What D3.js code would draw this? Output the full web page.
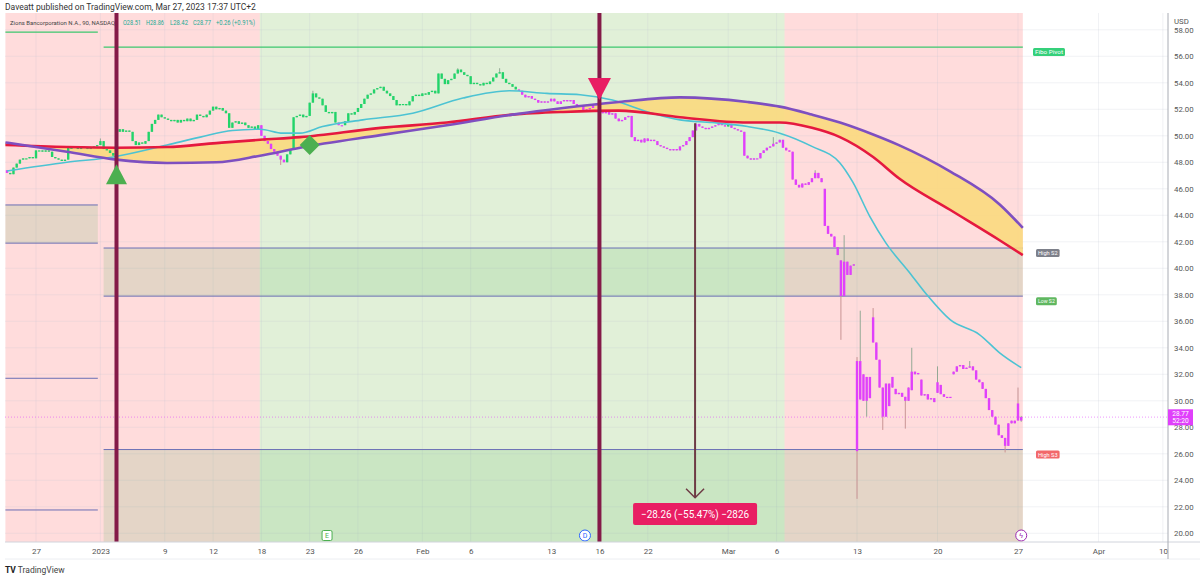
<!DOCTYPE html>
<html>
<head>
<meta charset="utf-8">
<script src="https://cdn.jsdelivr.net/npm/d3@7"></script>
<style>
  body { margin: 0; background: #fff; }
  svg { display: block; font-family: Roboto, "Liberation Sans", sans-serif; }
</style>
</head>
<body>
<svg id="chart" width="1200" height="575"></svg>
<script>
// ---- data (bar index 0 = first 90 min bar of Dec 27, 5 bars per session) ----
const firstBar = -9;
const closes = [
  47.2, 47.1, 47.6, 47.9,                 // Dec 22
  48.2, 48.3, 48.3, 48.4, 48.3,           // Dec 23
  48.9, 48.9, 48.8, 48.9, 48.8,           // Dec 27
  48.4, 48.3, 48.2, 48.1, 48.2,
  49.1, 49.1, 49.2, 49.0, 49.2,
  49.1, 49.0, 49.1, 49.2, 49.3,
  49.6, 49.0, 48.9, 48.7, 48.5,           // Jan 3
  50.3, 50.5, 50.3, 50.4, 50.3,
  49.6, 49.3, 49.5, 49.4, 49.6,
  50.3, 50.9, 51.2, 51.6, 51.4,
  51.3, 51.2, 51.1, 51.2, 51.0,           // Jan 9
  51.2, 51.1, 51.3, 51.1, 51.2,
  51.6, 51.5, 51.4, 51.6, 51.9,
  52.2, 52.0, 52.1, 51.9, 51.7,
  50.6, 51.0, 51.1, 50.9, 51.0,
  50.8, 50.6, 50.7, 50.5, 50.8,           // Jan 17
  50.0, 49.6, 49.4, 49.0, 48.8,
  48.5, 48.2, 48.0, 48.6, 49.0,
  51.4, 51.5, 51.6, 51.4, 51.5,
  52.5, 53.2, 52.9, 52.8, 52.3,           // Jan 23
  51.8, 51.7, 51.8, 51.0, 50.8,
  50.8, 51.1, 51.7, 51.6, 51.8,
  52.1, 52.4, 52.8, 53.1, 53.2,
  53.5, 53.6, 53.7, 53.4, 53.2,
  53.0, 52.7, 52.3, 52.4, 52.4,           // Jan 30
  52.3, 52.6, 53.0, 53.1, 53.0,
  53.2, 53.1, 53.3, 53.4, 53.2,
  54.7, 54.3, 53.9, 54.2, 54.3,
  54.7, 55.0, 54.8, 54.6, 54.5,
  53.9, 54.0, 53.9, 53.8, 54.0,           // Feb 6
  53.9, 54.1, 54.4, 54.7, 54.8,
  54.3, 54.0, 53.9, 53.7, 53.5,
  53.4, 53.1, 52.9, 53.0, 52.8,
  52.7, 52.5, 52.6, 52.5, 52.6,
  52.8, 52.6, 52.4, 52.6, 52.7,           // Feb 13
  52.6, 52.7, 52.4, 52.2, 52.3,
  51.9, 52.0, 52.1, 52.3, 52.4,
  51.8, 51.7, 51.8, 51.6, 51.7,
  51.3, 51.1, 51.2, 51.4, 51.5,
  49.9, 49.6, 49.7, 49.5, 49.8,           // Feb 21
  49.6, 49.7, 49.6, 49.3, 49.2,
  49.1, 49.0, 48.9, 49.0, 48.9,
  49.2, 49.3, 49.6, 49.9, 50.4,
  50.9, 50.7, 50.6, 50.5, 50.6,           // Feb 27
  50.7, 50.8, 50.9, 50.8, 50.7,
  50.9, 50.6, 50.5, 50.4, 50.3,
  48.5, 48.3, 48.2, 48.3, 48.3,
  48.7, 48.9, 49.1, 49.2, 49.4,
  49.5, 49.7, 49.1, 48.9, 48.8,           // Mar 6
  46.7, 46.3, 46.1, 46.4, 46.3,
  46.5, 46.8, 47.2, 46.8, 46.5,
  43.2, 42.6, 42.4, 41.6, 41.0,
  37.9, 40.5, 39.5, 40.2, 40.3,
  26.2, 33.0, 30.0, 31.8, 30.2,           // Mar 13
  34.4, 33.1, 31.0, 28.8, 31.3,
  29.6, 31.8, 30.5, 30.6, 30.3,
  30.0, 31.0, 32.2, 32.0, 32.1,
  30.4, 30.5, 30.1, 30.2, 29.9,
  31.4, 30.5, 30.3, 30.3, 30.3,           // Mar 20
  32.2, 32.6, 32.7, 32.4, 32.5,
  32.6, 32.3, 31.6, 31.4, 30.9,
  30.2, 29.3, 28.8, 28.2, 27.4,
  27.2, 26.6, 28.3, 28.5, 28.3,
  28.51, 28.77                            // Mar 27
];
// opens that differ from the previous close (session gaps)
const gapOpens = { "-9": 47.4, 245: 46.0, 250: 40.6, 255: 33.0, 256: 30.1, 257: 32.0,
  260: 36.3, 266: 31.0, 267: 30.9, 272: 30.8, 275: 31.6, 280: 30.6, 281: 31.2, 285: 32.0, 305: 29.8 };
const wickHighs = { 20: 49.8, 25: 50.7, 86: 53.4, 131: 55.1, 144: 55.1, 205: 51.0, 229: 49.9,
  242: 47.4, 251: 42.5, 255: 33.3, 256: 36.8, 260: 37.0, 272: 34.0, 280: 32.6, 290: 33.0, 305: 31.0, 306: 28.86 };
const wickLows = { 0: 48.3, 76: 47.8, 250: 34.6, 255: 22.6, 258: 28.8, 263: 27.8, 270: 27.9, 301: 26.1, 306: 28.42 };
const magentaRanges = [[-9, -9], [70, 77], [94, 95], [150, 214], [216, 306]];

// moving averages
const cyanBars = [-9, 9.6, 24, 40.7, 51, 61, 69.6, 76.7, 82, 89, 101.5, 117, 132.6, 147, 158.7, 169, 179,
  190, 200, 210, 221, 231, 241, 249.7, 253.7, 259, 264, 271.4, 276.7, 284, 293, 299.4, 306];
const cyanVals = [47.34, 48.0, 48.4, 49.3, 49.9, 50.4, 50.5, 50.2, 50.2, 50.7, 51.2, 51.7, 52.85, 53.4, 53.2, 53.1, 52.7,
  51.8, 51.2, 51.0, 50.7, 50.2, 49.2, 47.95, 46.5, 43.9, 41.9, 39.65, 38.0, 36.1, 35.0, 33.6, 32.5];
const bandBars = [-9.5, 9.6, 25, 40.7, 56, 69.6, 82, 107, 127.6, 148, 163.7, 181, 200, 221, 231, 241, 249.7, 260, 268, 284, 299.4, 306.5];
const redVals = [49.3, 49.15, 49.1, 49.15, 49.45, 49.7, 49.9, 50.6, 51.0, 51.6, 51.8, 51.9, 51.4, 51.0, 51.0, 50.6, 49.9, 48.4, 46.8, 44.4, 42.1, 41.0];
const purpleVals = [49.5, 48.8, 48.2, 47.95, 48.0, 48.5, 49.1, 50.05, 50.8, 51.6, 52.1, 52.55, 52.9, 52.55, 52.2, 51.6, 51.0, 50.1, 49.3, 47.3, 44.8, 43.05];

// background sessions
const zoneEdges = [-9.5, 69.5, 232.5, 306.5];
const zoneKinds = ["bear", "bull", "bear"];

// pivots
const prevPivotSpan = [-9.5, 19.2];
const curPivotSpan = [21, 306.5];
const prevPivotLevels = [57.83, 44.78, 41.9, 31.7, 21.76];
const pivotNames = ["Fibo Pivot", "High S2", "Low S2", "High S3"];
const pivotLevels = [56.7, 41.53, 37.9, 26.32];

// signals
const signalBars = [25, 175];
const signalPrices = [47.85, 52.7];
const diamondBar = 85, diamondPrice = 49.3;
const measureBar = 204.7, measureFrom = 50.95, measureTo = 22.69;
const measureText = "\u221228.26 (\u221255.47%) \u22122826";
const lastPrice = 28.77, countdown = "52:20";

// legend
const symbolName = "Zions Bancorporation N.A., 90, NASDAQ";
const ohlcLabels = ["O28.51", "H28.86", "L28.42", "C28.77", "+0.26 (+0.91%)"];

// axes
const tickBars = [0, 20, 40, 55, 70, 85, 100, 120, 135, 160, 175, 190, 215, 230, 255, 280, 305, 330, 350];
const tickLabels = ["27", "2023", "9", "12", "18", "23", "26", "Feb", "6", "13", "16", "22", "Mar", "6", "13", "20", "27", "Apr", "10"];
const priceTicks = [20, 22, 24, 26, 28, 30, 32, 34, 36, 38, 40, 42, 44, 46, 48, 50, 52, 54, 56, 58];
const eventBars = [90.4, 170.5, 306];
const eventLetters = ["E", "D", "\u03DF"];

// ---- drawing ----
const svg = d3.select("#chart");
const pane = { left: 5, right: 1168, top: 13, bottom: 542 };
const x = d3.scaleLinear().domain([0, 305]).range([36, 1018]);
const y = d3.scaleLinear().domain([20, 56]).range([533.3, 56.3]);

svg.append("defs").append("clipPath").attr("id", "pane")
  .append("rect").attr("x", pane.left).attr("y", pane.top)
  .attr("width", pane.right - pane.left).attr("height", pane.bottom - pane.top);

// header
svg.append("text").attr("x", 5).attr("y", 9.5).attr("font-size", 8.5).attr("fill", "#333")
  .text("Daveatt published on TradingView.com, Mar 27, 2023 17:37 UTC+2");

const g = svg.append("g").attr("clip-path", "url(#pane)");

// background zones
const zoneColor = { bear: "rgba(255,82,82,0.2)", bull: "rgba(106,180,60,0.2)" };
zoneKinds.forEach((k, i) => {
  g.append("rect")
    .attr("x", x(zoneEdges[i])).attr("y", pane.top)
    .attr("width", x(zoneEdges[i + 1]) - x(zoneEdges[i]))
    .attr("height", pane.bottom - pane.top)
    .attr("fill", zoneColor[k]);
});

// grid
g.selectAll(".hgrid").data(priceTicks).enter().append("line")
  .attr("x1", pane.left).attr("x2", pane.right)
  .attr("y1", d => y(d)).attr("y2", d => y(d))
  .attr("stroke", "rgba(190,195,210,0.22)");
g.selectAll(".vgrid").data(tickBars).enter().append("line")
  .attr("x1", d => x(d)).attr("x2", d => x(d))
  .attr("y1", pane.top).attr("y2", pane.bottom)
  .attr("stroke", "rgba(190,195,210,0.22)");

// pivot boxes (green tint) and lines
const tint = "rgba(76,175,80,0.15)";
const pivotLine = "#6a6fb5";
g.append("rect").attr("x", x(prevPivotSpan[0])).attr("y", y(prevPivotLevels[1]))
  .attr("width", x(prevPivotSpan[1]) - x(prevPivotSpan[0]))
  .attr("height", y(prevPivotLevels[2]) - y(prevPivotLevels[1])).attr("fill", tint);
g.append("rect").attr("x", x(curPivotSpan[0])).attr("y", y(pivotLevels[1]))
  .attr("width", x(curPivotSpan[1]) - x(curPivotSpan[0]))
  .attr("height", y(pivotLevels[2]) - y(pivotLevels[1])).attr("fill", tint);
g.append("rect").attr("x", x(curPivotSpan[0])).attr("y", y(pivotLevels[3]))
  .attr("width", x(curPivotSpan[1]) - x(curPivotSpan[0]))
  .attr("height", pane.bottom - y(pivotLevels[3])).attr("fill", tint);

prevPivotLevels.forEach((lv, i) => {
  g.append("line").attr("x1", x(prevPivotSpan[0])).attr("x2", x(prevPivotSpan[1]))
    .attr("y1", y(lv)).attr("y2", y(lv))
    .attr("stroke", i === 0 ? "#3cc76e" : pivotLine).attr("stroke-width", i === 0 ? 1.2 : 1);
});
pivotLevels.forEach((lv, i) => {
  g.append("line").attr("x1", x(curPivotSpan[0])).attr("x2", x(curPivotSpan[1]))
    .attr("y1", y(lv)).attr("y2", y(lv))
    .attr("stroke", i === 0 ? "#3cc76e" : pivotLine).attr("stroke-width", i === 0 ? 1.2 : 1);
});

// last price dotted line
g.append("line").attr("x1", pane.left).attr("x2", pane.right)
  .attr("y1", y(lastPrice)).attr("y2", y(lastPrice))
  .attr("stroke", "rgba(224,64,251,0.55)").attr("stroke-dasharray", "1,2");

// yellow band between the two long averages
const bandPts = bandBars.map((b, i) => ({ b, r: redVals[i], p: purpleVals[i] }));
g.append("path").datum(bandPts)
  .attr("fill", "#fbd97e").attr("opacity", 0.9)
  .attr("d", d3.area().curve(d3.curveMonotoneX).x(d => x(d.b)).y0(d => y(d.r)).y1(d => y(d.p)));

// candles
const isMagenta = b => magentaRanges.some(r => b >= r[0] && b <= r[1]);
const bars = closes.map((c, i) => {
  const b = firstBar + i;
  const o = gapOpens[b] !== undefined ? gapOpens[b] : (i ? closes[i - 1] : c);
  const h = Math.max(o, c, wickHighs[b] !== undefined ? wickHighs[b] : -Infinity);
  const l = Math.min(o, c, wickLows[b] !== undefined ? wickLows[b] : Infinity);
  return { b, o, c, h, l };
});
const candles = g.append("g");
candles.selectAll(".wick").data(bars).enter().append("line")
  .attr("x1", d => x(d.b)).attr("x2", d => x(d.b))
  .attr("y1", d => y(d.h)).attr("y2", d => y(d.l))
  .attr("stroke", d => d.c >= d.o ? "#93a894" : "#c99494").attr("stroke-width", 1);
candles.selectAll(".body").data(bars).enter().append("rect")
  .attr("x", d => x(d.b) - 1.2).attr("width", 2.4)
  .attr("y", d => y(Math.max(d.o, d.c)))
  .attr("height", d => Math.max(1.2, Math.abs(y(d.o) - y(d.c))))
  .attr("fill", d => isMagenta(d.b) ? "#e040fb" : "#22d46a");

// averages
const line = d3.line().curve(d3.curveMonotoneX);
g.append("path")
  .attr("d", line(cyanBars.map((b, i) => [x(b), y(cyanVals[i])])))
  .attr("fill", "none").attr("stroke", "#4cc3d3").attr("stroke-width", 1.6);
g.append("path")
  .attr("d", line(bandPts.map(d => [x(d.b), y(d.r)])))
  .attr("fill", "none").attr("stroke", "#e5193f").attr("stroke-width", 2.6);
g.append("path")
  .attr("d", line(bandPts.map(d => [x(d.b), y(d.p)])))
  .attr("fill", "none").attr("stroke", "#7e4fc0").attr("stroke-width", 2.6);

// legend line 2
svg.append("text").attr("x", 10).attr("y", 24.5).attr("font-size", 5.9)
  .attr("fill", "#444").attr("textLength", 105).attr("lengthAdjust", "spacingAndGlyphs").text(symbolName);
const ohlcX = [123, 146, 170, 193, 216];
const ohlcW = [18, 18, 18, 18, 39];
ohlcLabels.forEach((t, i) => {
  svg.append("text").attr("x", ohlcX[i]).attr("y", 24.5).attr("font-size", 6.6)
    .attr("fill", "#22ab94").attr("textLength", ohlcW[i]).attr("lengthAdjust", "spacingAndGlyphs").text(t);
});

// signal verticals
signalBars.forEach(b => {
  svg.append("line").attr("x1", x(b)).attr("x2", x(b))
    .attr("y1", pane.top).attr("y2", pane.bottom)
    .attr("stroke", "#841a48").attr("stroke-width", 4);
});
// buy triangle / sell triangle
const bx = x(signalBars[0]), by = y(signalPrices[0]);
svg.append("path").attr("d", `M${bx},${by} L${bx + 10.5},${by + 20} L${bx - 10.5},${by + 20} Z`).attr("fill", "#4caf50");
const sx = x(signalBars[1]), sy = y(signalPrices[1]);
svg.append("path").attr("d", `M${sx},${sy} L${sx + 11.5},${sy - 22} L${sx - 11.5},${sy - 22} Z`).attr("fill", "#e91e63");
// diamond
const dx = x(diamondBar), dy = y(diamondPrice);
svg.append("path").attr("d", `M${dx},${dy - 10} L${dx + 10},${dy} L${dx},${dy + 10} L${dx - 10},${dy} Z`).attr("fill", "#4caf50");

// measure tool
const mx = x(measureBar);
svg.append("line").attr("x1", mx).attr("x2", mx)
  .attr("y1", y(measureFrom)).attr("y2", y(measureTo))
  .attr("stroke", "#6e3b45").attr("stroke-width", 2);
svg.append("path").attr("d", `M${mx - 9},${y(measureTo) - 9} L${mx},${y(measureTo)} L${mx + 9},${y(measureTo) - 9}`)
  .attr("fill", "none").attr("stroke", "#6e3b45").attr("stroke-width", 1.5);
svg.append("rect").attr("x", mx - 62).attr("y", 503).attr("width", 124).attr("height", 22)
  .attr("rx", 2).attr("fill", "#e91e63");
svg.append("text").attr("x", mx).attr("y", 518).attr("text-anchor", "middle")
  .attr("font-size", 11).attr("fill", "#fff")
  .attr("textLength", 108).attr("lengthAdjust", "spacingAndGlyphs").text(measureText);

// event markers on the time line
const eventColors = ["#4caf50", "#2962ff", "#9c27b0"];
eventBars.forEach((b, i) => {
  const ex = x(b), ey = 535.5;
  if (i === 0) {
    svg.append("rect").attr("x", ex - 5).attr("y", ey - 5).attr("width", 10).attr("height", 10)
      .attr("rx", 1.5).attr("fill", "#fff").attr("stroke", eventColors[i]);
  } else {
    svg.append("circle").attr("cx", ex).attr("cy", ey).attr("r", 5.5)
      .attr("fill", "#fff").attr("stroke", eventColors[i]);
  }
  svg.append("text").attr("x", ex).attr("y", ey + 2.6).attr("text-anchor", "middle")
    .attr("font-size", 7).attr("fill", eventColors[i]).text(eventLetters[i]);
});

// pivot labels in the empty right area
const labelColors = ["#35d07a", "#7d808a", "#5fb760", "#f2686a"];
pivotNames.forEach((name, i) => {
  const ly = y(pivotLevels[i]) + 1;
  const lx = i === 0 ? 1033 : 1036;
  const w = name.length * 2.8 + 4;
  svg.append("rect").attr("x", lx).attr("y", ly).attr("width", w).attr("height", 8)
    .attr("rx", 1.5).attr("fill", labelColors[i]);
  svg.append("text").attr("x", lx + 2).attr("y", ly + 6)
    .attr("font-size", 6).attr("fill", "#fff")
    .attr("textLength", w - 4).attr("lengthAdjust", "spacingAndGlyphs").text(name);
});

// time axis
svg.append("line").attr("x1", pane.left).attr("x2", 1200).attr("y1", pane.bottom).attr("y2", pane.bottom)
  .attr("stroke", "#d1d4dc");
const xAxis = svg.append("g").attr("transform", `translate(0,${pane.bottom})`)
  .call(d3.axisBottom(x).tickValues(tickBars).tickSize(0).tickPadding(6)
    .tickFormat((d, i) => tickLabels[i]));
xAxis.select(".domain").remove();
xAxis.selectAll("text").attr("font-size", 8).attr("fill", "#555").attr("font-family", "Roboto, sans-serif");
svg.append("line").attr("x1", pane.left).attr("x2", 1200).attr("y1", 559).attr("y2", 559)
  .attr("stroke", "#eceef2");

// price axis
svg.append("line").attr("x1", pane.right).attr("x2", pane.right).attr("y1", pane.top).attr("y2", 559)
  .attr("stroke", "#a9acb4").attr("stroke-width", 1);
const yAxis = svg.append("g").attr("transform", `translate(${pane.right},0)`)
  .call(d3.axisRight(y).tickValues(priceTicks).tickSize(0).tickPadding(6).tickFormat(d3.format(".2f")));
yAxis.select(".domain").remove();
yAxis.selectAll("text").attr("font-size", 7.8).attr("fill", "#555").attr("font-family", "Roboto, sans-serif");
svg.append("rect").attr("x", pane.right + 1).attr("y", 10).attr("width", 31).attr("height", 17).attr("fill", "#fff");
svg.append("text").attr("x", 1174).attr("y", 23.5).attr("font-size", 7.8).attr("fill", "#555").text("USD");

// last price tag
svg.append("rect").attr("x", pane.right).attr("y", y(lastPrice) - 7.8).attr("width", 25).attr("height", 16)
  .attr("fill", "#e040fb");
svg.append("text").attr("x", pane.right + 12.5).attr("y", y(lastPrice) - 0.6).attr("text-anchor", "middle")
  .attr("font-size", 6.6).attr("fill", "#fff").text(lastPrice.toFixed(2));
svg.append("text").attr("x", pane.right + 12.5).attr("y", y(lastPrice) + 6).attr("text-anchor", "middle")
  .attr("font-size", 6.6).attr("fill", "#fff").text(countdown);

// footer
const foot = svg.append("text").attr("x", 5).attr("y", 573).attr("font-size", 8.5).attr("fill", "#222");
foot.append("tspan").attr("font-weight", "bold").text("TV");
foot.append("tspan").attr("fill", "#444").text(" TradingView");
</script>
</body>
</html>
